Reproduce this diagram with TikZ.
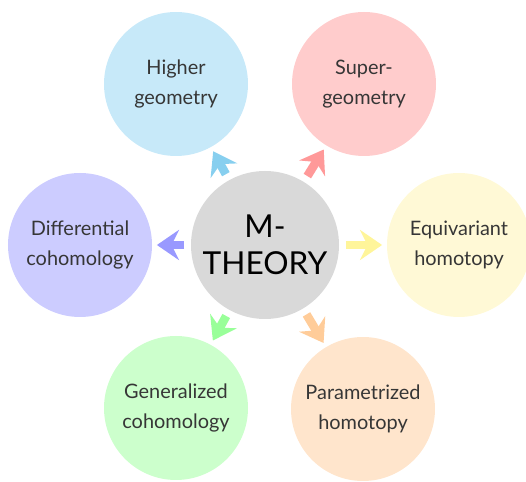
\documentclass[tikz,border=0pt]{standalone}
\usepackage{fontspec}
\setmainfont{Lato}
\usepackage{xcolor}
\usepackage{tikz}
\usetikzlibrary{arrows.meta}

\definecolor{hgfill}{HTML}{C7E9F9}
\definecolor{hgarrow}{HTML}{87CFEF}
\definecolor{sgfill}{HTML}{FFCCCC}
\definecolor{sgarrow}{HTML}{FF9999}
\definecolor{eqfill}{HTML}{FFF9D6}
\definecolor{eqarrow}{HTML}{FFF59A}
\definecolor{difill}{HTML}{CCCCFF}
\definecolor{diarrow}{HTML}{9999FF}
\definecolor{gcfill}{HTML}{CCFFCC}
\definecolor{gcarrow}{HTML}{99FF99}
\definecolor{pafill}{HTML}{FFE5CC}
\definecolor{paarrow}{HTML}{FFCC99}
\definecolor{bubbletext}{HTML}{363636}

\begin{document}
\begin{tikzpicture}[
    hub/.style={circle, fill=gray!30, minimum size=4.44cm, inner sep=0pt, align=center, font=\fontsize{27}{32}\selectfont},
    bubble/.style={circle, minimum size=4.32cm, inner sep=0pt, align=center, text=bubbletext, font=\fontsize{17}{25.5}\selectfont},
    fat/.style={-{Stealth[length=0.66cm, width=0.9cm, inset=0.22cm]}, line width=0.26cm, shorten <=0.2cm, shorten >=0.14cm},
]
\useasboundingbox (0,0) rectangle (15.78,14.46);

% Center
\node[hub] (mtheory) at (7.95,7.11) {M-\\THEORY};

% Satellites
\node[bubble, fill=hgfill] (higher) at (5.28,11.94) {Higher\\geometry};
\node[bubble, fill=sgfill] (super) at (10.92,11.94) {Super-\\geometry};
\node[bubble, fill=eqfill] (equiv) at (13.77,7.11) {Equivariant\\homotopy};
\node[bubble, fill=difill] (diff) at (2.40,7.11) {Differential\\cohomology};
\node[bubble, fill=gcfill] (gen) at (5.28,2.22) {Generalized\\cohomology};
\node[bubble, fill=pafill] (param) at (10.89,2.19) {Parametrized\\homotopy};

% Arrows
\draw[fat, hgarrow] (mtheory) -- (higher);
\draw[fat, sgarrow] (mtheory) -- (super);
\draw[fat, eqarrow] (mtheory) -- (equiv);
\draw[fat, diarrow] (mtheory) -- (diff);
\draw[fat, gcarrow] (mtheory) -- (gen);
\draw[fat, paarrow] (mtheory) -- (param);

\end{tikzpicture}
\end{document}
